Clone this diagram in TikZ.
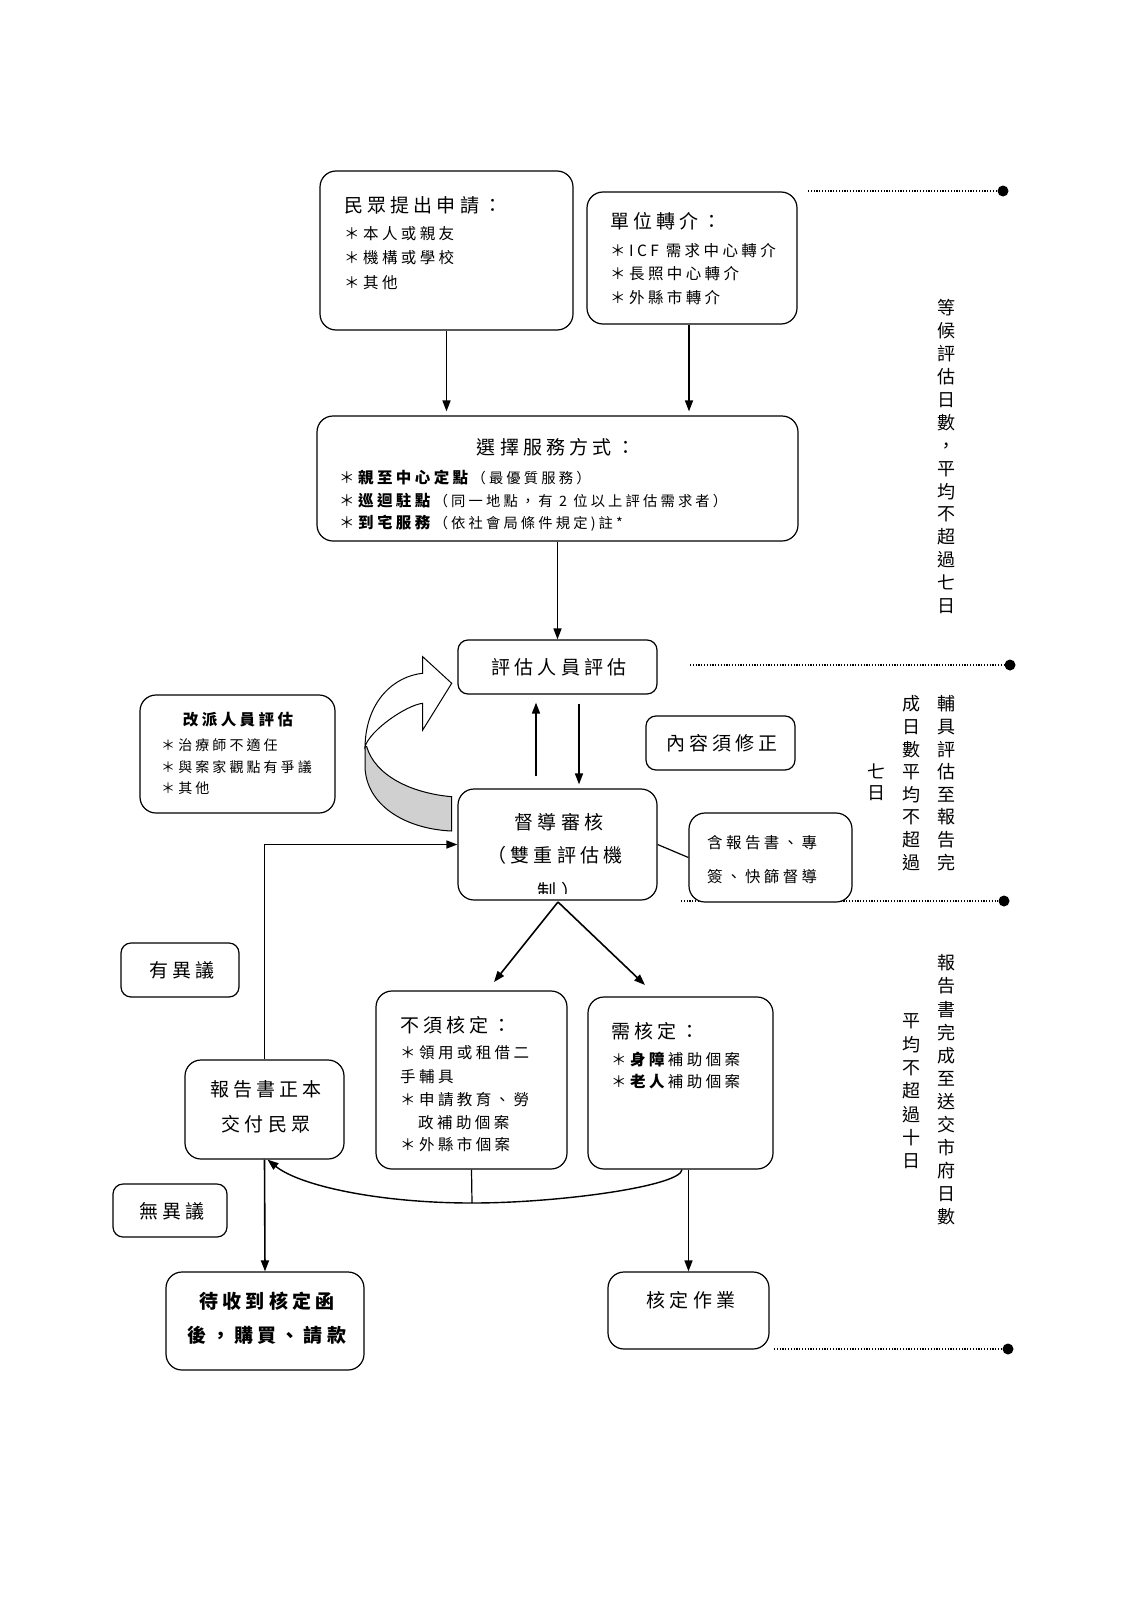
\documentclass[tikz,border=0pt]{standalone}
\usepackage{fontspec}
\newfontfamily\cjk[LetterSpace=22]{Noto Sans CJK TC}
\newfontfamily\cjkv{Noto Sans CJK TC}
\usetikzlibrary{arrows.meta}
\definecolor{ribbongray}{RGB}{208,208,208}
\tikzset{
 box/.style={draw, line width=1.2pt, rounded corners=16pt, fill=white, inner sep=0pt},
 sbox/.style={box, rounded corners=10pt},
 tx/.style={inner sep=0pt},
 L/.style={tx, font=\cjk\fontsize{19}{22}\selectfont, text height=16.7pt, text depth=2.3pt},
 S/.style={tx, font=\cjk\fontsize{15.5}{18}\selectfont, text height=13.6pt, text depth=1.9pt},
 T/.style={tx, font=\cjk\fontsize{14}{17}\selectfont, text height=12.3pt, text depth=1.7pt},
 vch/.style={tx, font=\cjkv\fontsize{18}{20}\selectfont, text height=15.8pt, text depth=2.2pt},
 arr/.style={line width=1.6pt, -{Triangle[length=11pt,width=8pt]}},
 dotl/.style={line width=1.6pt, dash pattern=on 1.2pt off 1.6pt},
 enddot/.style={circle, fill, inner sep=0pt, minimum size=11pt},
}
\newcommand{\paren}[1]{{\fontsize{14.3}{16}\selectfont #1}}
\begin{document}
\begin{tikzpicture}[x=1pt,y=-1pt]
\path[use as bounding box, fill=white] (0,0) rectangle (1132,1600);

% dotted guide lines
\coordinate (s1) at (808,191);  \node[enddot] (e1) at (1003,191) {};
\coordinate (s2) at (690,665);  \node[enddot] (e2) at (1010,665) {};
\coordinate (s3) at (681,901);  \node[enddot] (e3) at (1004,901) {};
\coordinate (s4) at (774,1349); \node[enddot] (e4) at (1008,1349) {};
\draw[dotl] (s1) -- (e1);
\draw[dotl] (s2) -- (e2);
\draw[dotl] (s3) -- (e3);
\draw[dotl] (s4) -- (e4);

% boxes
\node[box, minimum width=253pt, minimum height=159pt] (b1) at (446.5,250.5) {};
\node[box, minimum width=210pt, minimum height=132pt] (b2) at (692,258) {};
\node[box, minimum width=481pt, minimum height=125pt] (b3) at (557.5,478.5) {};
\node[sbox, minimum width=199pt, minimum height=54pt] (b4) at (557.5,667) {};
\node[sbox, minimum width=149pt, minimum height=54pt] (b5) at (720.5,743) {};
\node[box, minimum width=199pt, minimum height=111pt] (b6) at (557.5,844.5) {};
\node[box, minimum width=163pt, minimum height=89pt] (b7) at (770.5,857.5) {};
\node[box, minimum width=195pt, minimum height=118pt] (b8) at (237.5,754) {};
\node[sbox, minimum width=118pt, minimum height=54pt] (b9) at (180,970) {};
\node[box, minimum width=159pt, minimum height=99pt] (b10) at (264.5,1109.5) {};
\node[sbox, minimum width=114pt, minimum height=53pt] (b11) at (170,1210.5) {};
\node[box, minimum width=198pt, minimum height=98pt] (b12) at (265,1321) {};
\node[box, minimum width=191pt, minimum height=178pt] (b13) at (471.5,1080) {};
\node[box, minimum width=185pt, minimum height=172pt] (b14) at (680.5,1083) {};
\node[box, minimum width=161pt, minimum height=77pt] (b15) at (688.5,1310.5) {};

% texts b1
\node[L, anchor=west] (t1a) at (344,205) {民眾提出申請：};
\node[S, anchor=west] (t1b) at (344,234) {＊本人或親友};
\node[S, anchor=west] (t1c) at (344,258) {＊機構或學校};
\node[S, anchor=west] (t1d) at (344,283) {＊其他};
% b2
\node[L, anchor=west] (t2a) at (610,221) {單位轉介：};
\node[S, anchor=west] (t2b) at (610,251) {＊ICF 需求中心轉介};
\node[S, anchor=west] (t2c) at (610,274) {＊長照中心轉介};
\node[S, anchor=west] (t2d) at (610,298) {＊外縣市轉介};
% b3
\node[L] (t3a) at (556,447) {選擇服務方式：};
\node[S, anchor=west] (t3b) at (339,478) {＊\textbf{親至中心定點}\paren{（最優質服務）}};
\node[S, anchor=west] (t3c) at (339,501) {＊\textbf{巡迴駐點}\paren{（同一地點，有 2 位以上評估需求者）}};
\node[S, anchor=west] (t3d) at (339,523) {＊\textbf{到宅服務}\paren{（依社會局條件規定)註*}};
% b4, b5
\node[L] (t4) at (559,667) {評估人員評估};
\node[L] (t5) at (722,743) {內容須修正};
% b6
\node[L] (t6a) at (559,822) {督導審核};
\node[L] (t6b) at (555,855) {（雙重評估機};
\begin{scope}
\clip (458,789) rectangle (657,893.5);
\node[L] (t6c) at (559,891) {制）};
\end{scope}
% b7
\node[S, anchor=west] (t7a) at (707,843) {含報告書、專};
\node[S, anchor=west] (t7b) at (707,877) {簽、快篩督導};
% b8
\node[S, font=\cjk\fontsize{15.5}{18}\selectfont\bfseries] (t8a) at (238,720) {改派人員評估};
\node[T, anchor=west] (t8b) at (161,745) {＊治療師不適任};
\node[T, anchor=west] (t8c) at (161,767) {＊與案家觀點有爭議};
\node[T, anchor=west] (t8d) at (161,788) {＊其他};
% b9 - b12
\node[L] (t9) at (182,970) {有異議};
\node[L] (t10a) at (266,1089) {報告書正本};
\node[L] (t10b) at (266,1124) {交付民眾};
\node[L] (t11) at (172,1211) {無異議};
\node[L, font=\cjk\fontsize{19}{22}\selectfont\bfseries] (t12a) at (267,1301) {待收到核定函};
\node[L, font=\cjk\fontsize{19}{22}\selectfont\bfseries] (t12b) at (267,1335) {後，購買、請款};
% b13
\node[L, anchor=west] (t13a) at (400,1025) {不須核定：};
\node[S, anchor=west] (t13b) at (400,1053) {＊領用或租借二};
\node[S, anchor=west] (t13c) at (400,1077) {手輔具};
\node[S, anchor=west] (t13d) at (400,1100) {＊申請教育、勞};
\node[S, anchor=west] (t13e) at (418,1123) {政補助個案};
\node[S, anchor=west] (t13f) at (400,1145) {＊外縣市個案};
% b14
\node[L, anchor=west] (t14a) at (611,1031) {需核定：};
\node[S, anchor=west] (t14b) at (611,1060) {＊\textbf{身障}補助個案};
\node[S, anchor=west] (t14c) at (611,1082) {＊\textbf{老人}補助個案};
% b15
\node[L] (t15) at (691,1300) {核定作業};

% vertical notes
\foreach \c [count=\i from 0] in {等,候,評,估,日,數,，,平,均,不,超,過,七,日}
  \node[vch] (va\i) at (946,308+22.9*\i) {\c};
\foreach \c [count=\i from 0] in {輔,具,評,估,至,報,告,完}
  \node[vch] (vb\i) at (946,704+22.6*\i) {\c};
\foreach \c [count=\i from 0] in {成,日,數,平,均,不,超,過}
  \node[vch] (vc\i) at (911,704+22.6*\i) {\c};
\foreach \c [count=\i from 0] in {七,日}
  \node[vch] (vd\i) at (876,772+21*\i) {\c};
\foreach \c [count=\i from 0] in {報,告,書,完,成,至,送,交,市,府,日,數}
  \node[vch] (ve\i) at (946,963+23.1*\i) {\c};
\foreach \c [count=\i from 0] in {平,均,不,超,過,十,日}
  \node[vch] (vf\i) at (911,1021+23.3*\i) {\c};

% curved ribbon arrow
\draw[line width=1pt, fill=ribbongray] (366.7,746.7) .. controls (375,775) and (410,793) .. (451.7,796.7)
  -- (451.7,831) .. controls (405,829) and (366,805) .. (365,766.7) -- (365,746.7) -- cycle;
\draw[line width=1pt, fill=white] (422.7,703.3) -- (422.7,730) -- (451.7,683.3) -- (422.7,656.7) -- (422.7,673.3)
  .. controls (395,676) and (366,700) .. (365,746.7)
  .. controls (370,730) and (406.7,705) .. (422.7,703.3) -- cycle;

% connectors
\draw[arr, shorten >=4pt] (b1.south) -- (b1.south |- b3.north);
\draw[arr, shorten >=4pt] ([xshift=-3pt]b2.south) -- ([xshift=-3pt]b2.south |- b3.north);
\draw[arr] (b3.south) -- (b4.north);
\draw[arr] ([xshift=-21.5pt,yshift=12pt]b6.north) -- ([xshift=-21.5pt,yshift=-8pt]b4.south);
\draw[arr] ([xshift=21.5pt,yshift=-9pt]b4.south) -- ([xshift=21.5pt,yshift=4pt]b6.north);
\draw[line width=1.2pt] (b6.east) -- (b7.west);
\coordinate (ap) at (558,902);
\coordinate (p13) at (494,982);
\coordinate (p14) at (645,985);
\draw[arr] (ap) -- (p13);
\draw[arr] (ap) -- (p14);
\draw[arr] (b10.north) |- (b6.west);
\draw[arr] (b10.south) -- (b12.north);
\draw[arr] (b15.north |- b14.south) -- (b15.north);
\coordinate (cb) at (472,1203);
\draw[line width=1.4pt, -{Triangle[length=11pt,width=8pt]}] ([xshift=1.5pt]b14.south) .. controls (681,1186) and (560,1203) .. (cb)
  .. controls (380,1203) and (300,1186) .. ([xshift=3pt]b10.south);
\draw[line width=1.2pt] (b13.south) -- (cb);
\end{tikzpicture}
\end{document}
